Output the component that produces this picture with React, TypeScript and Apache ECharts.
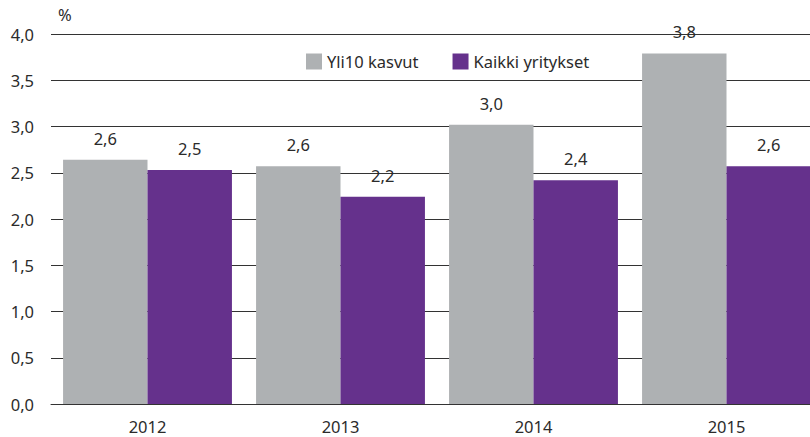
import React, { useEffect, useRef } from "react";
import * as echarts from "echarts";

const years = ["2012", "2013", "2014", "2015"];
const yli10 = [2.64, 2.57, 3.02, 3.79];
const kaikki = [2.53, 2.24, 2.42, 2.57];
const seriesNames = ["Yli10 kasvut", "Kaikki yritykset"];

const fmt = (v: number) => v.toFixed(1).replace(".", ",");
const FONT = "Noto Sans";
const TXT = "#2b2b2b";
const FS = 16.5;

export default function App() {
  const ref = useRef<HTMLDivElement>(null);
  useEffect(() => {
    if (!ref.current) return;
    const chart = echarts.init(ref.current, undefined, { renderer: "svg" });
    const label = {
      show: true,
      position: "top" as const,
      distance: 13,
      color: TXT,
      fontFamily: FONT,
      fontSize: FS,
      formatter: (p: any) => fmt(p.value),
    };
    chart.setOption({
      animation: false,
      textStyle: { fontFamily: FONT },
      grid: { left: 51, top: 34, bottom: 33, width: 772, containLabel: false },
      legend: {
        top: 48,
        left: 301,
        itemWidth: 16,
        itemHeight: 16,
        itemGap: 34,
        icon: "rect",
        textStyle: { fontFamily: FONT, fontSize: FS, color: TXT, padding: [0, 0, 0, 0] },
        data: seriesNames,
      },
      xAxis: {
        type: "category",
        data: years,
        axisTick: { show: false },
        axisLine: { lineStyle: { color: "#333333", width: 1 } },
        axisLabel: { color: TXT, fontFamily: FONT, fontSize: FS, margin: 14 },
      },
      yAxis: {
        type: "value",
        min: 0,
        max: 4,
        interval: 0.5,
        name: "%",
        nameLocation: "end",
        nameGap: 11,
        nameTextStyle: { color: TXT, fontFamily: FONT, fontSize: FS, align: "left", padding: [0, 0, 0, 7] },
        axisLine: { show: false },
        axisTick: { show: false },
        axisLabel: { color: TXT, fontFamily: FONT, fontSize: FS, margin: 17, formatter: (v: number) => fmt(v) },
        splitLine: { lineStyle: { color: "#333333", width: 1 } },
      },
      series: [
        {
          name: seriesNames[0],
          type: "bar",
          data: yli10,
          barGap: "0%",
          barCategoryGap: "12.5%",
          itemStyle: { color: "#AEB1B3" },
          label,
        },
        {
          name: seriesNames[1],
          type: "bar",
          data: kaikki,
          itemStyle: { color: "#65318C" },
          label,
        },
      ],
    });
    return () => chart.dispose();
  }, []);
  return (
    <div style={{ width: 810, height: 437, position: "absolute", left: 0, top: 0, overflow: "hidden" }}>
      <div ref={ref} style={{ width: 830, height: 437 }} />
    </div>
  );
}
